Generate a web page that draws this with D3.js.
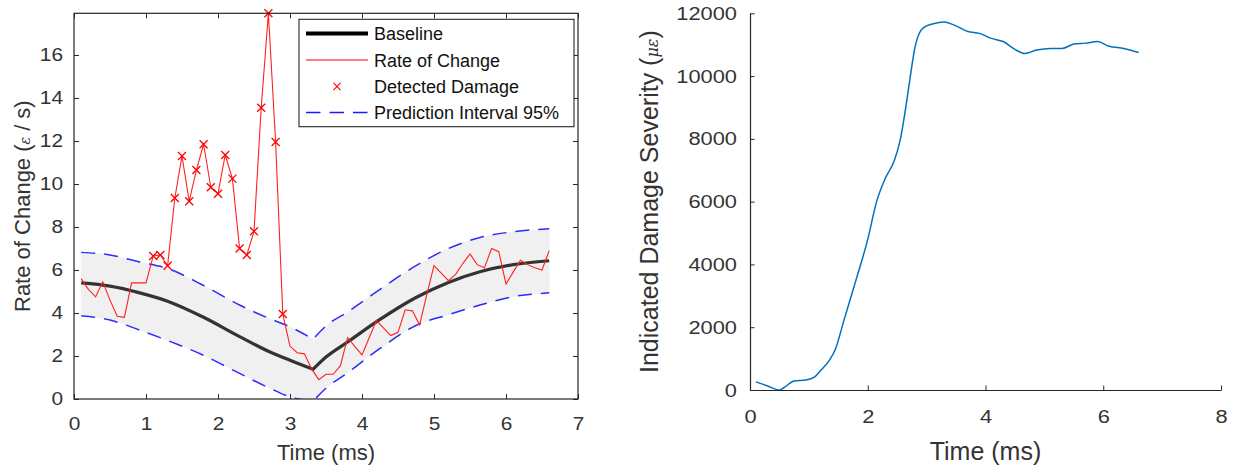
<!DOCTYPE html>
<html><head><meta charset="utf-8">
<script src="https://cdn.jsdelivr.net/npm/d3@7"></script>
<style>
body{margin:0;background:#fff}
text{font-family:"Liberation Sans",Arial,Helvetica,sans-serif;}
</style>
</head><body>
<svg id="c" width="1234" height="470"></svg>
<script>
// ---------- DATA (left panel) ----------
const time = [0.1,0.2,0.3,0.4,0.5,0.6,0.7,0.8,0.9,1.0,1.1,1.2,1.3,1.4,1.5,1.6,1.7,1.8,1.9,2.0,
  2.1,2.2,2.3,2.4,2.5,2.6,2.7,2.8,2.9,3.0,3.1,3.2,3.3,3.4,3.5,3.6,3.7,3.8,3.9,4.0,
  4.1,4.2,4.3,4.4,4.5,4.6,4.7,4.8,4.9,5.0,5.1,5.2,5.3,5.4,5.5,5.6,5.7,5.8,5.9,6.0,
  6.1,6.2,6.3,6.4,6.5,6.6];
const rateOfChange = [5.6,5.1,4.75,5.45,4.6,3.85,3.8,5.4,5.4,5.4,6.65,6.7,6.2,9.35,11.3,9.2,10.65,11.85,9.85,9.55,
  11.35,10.25,7.0,6.7,7.8,13.55,17.94,11.95,3.95,2.45,2.15,2.1,1.4,0.9,1.15,1.15,1.55,2.85,2.45,2.05,
  2.85,3.65,3.3,2.95,3.1,4.15,4.1,3.45,4.85,6.2,5.85,5.5,5.8,6.3,6.75,6.25,6.1,7.0,6.85,5.35,
  5.9,6.45,6.25,6.1,6.0,6.9];
const detectedTime = [1.1,1.2,1.3,1.4,1.5,1.6,1.7,1.8,1.9,2.0,2.1,2.2,2.3,2.4,2.5,2.6,2.7,2.8,2.9];
const detectedRate = [6.65,6.7,6.2,9.35,11.3,9.2,10.65,11.85,9.85,9.55,11.35,10.25,7.0,6.7,7.8,13.55,17.94,11.95,3.95];

// baseline & 95% prediction interval, falling branch and rising branch
const fallTime  = [0.1,0.5,0.9,1.3,1.8,2.3,2.7,3.0,3.32];
const fallBase  = [5.4,5.25,4.95,4.55,3.8,2.9,2.22,1.8,1.38];
const fallUpper = [6.82,6.7,6.38,6.07,5.28,4.37,3.76,3.36,2.78];
const fallLower = [3.87,3.67,3.22,2.72,2.03,1.19,0.53,0.1,-0.1];
const riseTime  = [3.32,3.5,3.8,4.25,4.75,5.2,5.65,6.1,6.6];
const riseBase  = [1.38,1.95,2.65,3.7,4.72,5.42,5.93,6.25,6.43];
const riseUpper = [2.78,3.4,4.05,5.1,6.2,7.0,7.52,7.78,7.92];
const riseLower = [-0.1,0.5,1.22,2.35,3.42,3.92,4.38,4.76,4.94];

const leftXTicks = [0,1,2,3,4,5,6,7];
const leftYTicks = [0,2,4,6,8,10,12,14,16];
const legendLabels = ["Baseline","Rate of Change","Detected Damage","Prediction Interval 95%"];

// ---------- DATA (right panel) ----------
const sevTime = [0.1,0.3,0.5,0.6,0.75,0.95,1.1,1.2,1.35,1.45,1.6,1.8,2.0,2.15,2.3,2.45,2.55,2.65,2.72,2.8,
  2.9,3.0,3.15,3.3,3.45,3.7,3.9,4.1,4.3,4.5,4.67,4.87,5.1,5.3,5.5,5.7,5.9,6.1,6.35,6.6];
const severity = [260,130,0,110,290,320,420,620,950,1300,2250,3500,4800,6000,6750,7300,7950,9050,9950,10900,
  11450,11600,11680,11720,11640,11420,11360,11200,11100,10850,10720,10830,10880,10880,11020,11050,11100,10950,10880,10750];
const rightXTicks = [0,2,4,6,8];
const rightYTicks = [0,2000,4000,6000,8000,10000,12000];

// ---------- DRAW ----------
const svg = d3.select("#c");
const axisCol = "#262626";

function stretchText(sel, sx){
  sel.selectAll("text").each(function(){
    const t = d3.select(this);
    const x = +t.attr("x") || 0;
    t.attr("x", x/sx).attr("transform", `scale(${sx},1)`);
  });
}

// ===== Left panel =====
const L = {x0:74, x1:578, y0:13.3, y1:399};
const xL = d3.scaleLinear().domain([0,7]).range([L.x0,L.x1]);
const yL = d3.scaleLinear().domain([0,17.94]).range([L.y1,L.y0]);

const defs = svg.append("defs");
defs.append("clipPath").attr("id","clipL").append("rect")
  .attr("x",L.x0).attr("y",L.y0).attr("width",L.x1-L.x0).attr("height",L.y1-L.y0);

const gL = svg.append("g");
const plotL = gL.append("g").attr("clip-path","url(#clipL)");

function branch(t, b, u, l){ return t.map((v,i)=>({t:v,b:b[i],u:u[i],l:l[i]})); }
const branches = [branch(fallTime,fallBase,fallUpper,fallLower), branch(riseTime,riseBase,riseUpper,riseLower)];

const area = d3.area().x(d=>xL(d.t)).y0(d=>yL(d.l)).y1(d=>yL(d.u)).curve(d3.curveMonotoneX);
branches.forEach(br=>{
  plotL.append("path").attr("d",area(br)).attr("fill","#f0f0f0").attr("stroke","#f0f0f0").attr("stroke-width",0.5);
});
const upLine = d3.line().x(d=>xL(d.t)).y(d=>yL(d.u)).curve(d3.curveMonotoneX);
const loLine = d3.line().x(d=>xL(d.t)).y(d=>yL(d.l)).curve(d3.curveMonotoneX);
const bLine  = d3.line().x(d=>xL(d.t)).y(d=>yL(d.b)).curve(d3.curveMonotoneX);
const upD = upLine(branches[0]) + upLine(branches[1]).replace(/^M/,"L");
const loD = loLine(branches[0]) + loLine(branches[1]).replace(/^M/,"L");
[upD, loD].forEach(d=>{
  plotL.append("path").attr("d",d).attr("fill","none").attr("stroke","#2b2bff")
    .attr("stroke-width",1.5).attr("stroke-dasharray","14,9");
});
const bD = bLine(branches[0]) + bLine(branches[1]).replace(/^M/,"L");
plotL.append("path").attr("d",bD).attr("fill","none").attr("stroke","#333")
  .attr("stroke-width",3.2).attr("stroke-linejoin","round");

const rLine = d3.line().x((d,i)=>xL(time[i])).y(d=>yL(d));
plotL.append("path").attr("d",rLine(rateOfChange)).attr("fill","none")
  .attr("stroke","#ff2020").attr("stroke-width",1.1);

const mk = 4;
detectedTime.forEach((t,i)=>{
  const cx = xL(t), cy = yL(detectedRate[i]);
  gL.append("path").attr("d",`M${cx-mk},${cy-mk}L${cx+mk},${cy+mk}M${cx-mk},${cy+mk}L${cx+mk},${cy-mk}`)
    .attr("stroke","#ff0000").attr("stroke-width",1.3).attr("fill","none");
});

// axes (box)
const axB = gL.append("g").attr("transform",`translate(0,${L.y1})`)
  .call(d3.axisBottom(xL).tickValues(leftXTicks).tickFormat(d3.format("d")).tickSizeInner(-5).tickSizeOuter(0).tickPadding(18));
const axT = gL.append("g").attr("transform",`translate(0,${L.y0})`)
  .call(d3.axisTop(xL).tickValues(leftXTicks).tickFormat("").tickSizeInner(-5).tickSizeOuter(0));
const axLft = gL.append("g").attr("transform",`translate(${L.x0},0)`)
  .call(d3.axisLeft(yL).tickValues(leftYTicks).tickFormat(d3.format("d")).tickSizeInner(-5).tickSizeOuter(0).tickPadding(11));
const axRgt = gL.append("g").attr("transform",`translate(${L.x1},0)`)
  .call(d3.axisRight(yL).tickValues(leftYTicks).tickFormat("").tickSizeInner(-5).tickSizeOuter(0));
[axB,axT,axLft,axRgt].forEach(a=>{
  a.select(".domain").remove();
  a.selectAll("line").attr("stroke",axisCol);
  a.selectAll("text").attr("fill","#333").style("font-size","17.7px").style("font-family",'"Liberation Sans",Arial,sans-serif');
});
stretchText(axB,1.18); stretchText(axLft,1.18);
gL.append("rect").attr("x",L.x0).attr("y",L.y0).attr("width",L.x1-L.x0).attr("height",L.y1-L.y0)
  .attr("fill","none").attr("stroke",axisCol).attr("stroke-width",1.2);

gL.append("text").attr("x",(L.x0+L.x1)/2).attr("y",460).attr("text-anchor","middle")
  .attr("fill","#333").style("font-size","22px").text("Time (ms)");
const yl = gL.append("text").attr("transform",`translate(29.5,${(L.y0+L.y1)/2}) rotate(-90)`)
  .attr("text-anchor","middle").attr("fill","#333").style("font-size","22px");
yl.append("tspan").text("Rate of Change (");
yl.append("tspan").style("font-style","italic").style("font-family","'DejaVu Serif',serif").style("font-size","14px").text("ε");
yl.append("tspan").text(" / s)");

// legend
const lg = gL.append("g");
lg.append("rect").attr("x",299).attr("y",19.3).attr("width",275).attr("height",107.4)
  .attr("fill","#fff").attr("stroke","#262626").attr("stroke-width",1.1);
const rowY = [33.5,60,86.5,112.5];
lg.append("line").attr("x1",306).attr("x2",368).attr("y1",rowY[0]).attr("y2",rowY[0]).attr("stroke","#000").attr("stroke-width",4);
lg.append("line").attr("x1",306).attr("x2",368).attr("y1",rowY[1]).attr("y2",rowY[1]).attr("stroke","#ff0000").attr("stroke-width",1.2);
{const cx=337, cy=rowY[2], m=3.6;
 lg.append("path").attr("d",`M${cx-m},${cy-m}L${cx+m},${cy+m}M${cx-m},${cy+m}L${cx+m},${cy-m}`).attr("stroke","#ff0000").attr("stroke-width",1.1);}
lg.append("line").attr("x1",306).attr("x2",368).attr("y1",rowY[3]).attr("y2",rowY[3]).attr("stroke","#1a1aff").attr("stroke-width",1.5).attr("stroke-dasharray","14.5,9");
legendLabels.forEach((s,i)=>{
  lg.append("text").attr("x",374).attr("y",rowY[i]+6.5).attr("fill","#111").style("font-size","18px").text(s);
});

// ===== Right panel =====
const R = {x0:750, x1:1221, y0:13.3, y1:390};
const xR = d3.scaleLinear().domain([0,8]).range([R.x0,R.x1]);
const yR = d3.scaleLinear().domain([0,12000]).range([R.y1,R.y0]);
const gR = svg.append("g");
gR.append("path").attr("d", d3.line().x((d,i)=>xR(sevTime[i])).y(d=>yR(d)).curve(d3.curveMonotoneX)(severity))
  .attr("fill","none").attr("stroke","#0072BD").attr("stroke-width",1.5);

const rB = gR.append("g").attr("transform",`translate(0,${R.y1})`)
  .call(d3.axisBottom(xR).tickValues(rightXTicks).tickFormat(d3.format("d")).tickSizeInner(-4.5).tickSizeOuter(0).tickPadding(20));
const rL = gR.append("g").attr("transform",`translate(${R.x0},0)`)
  .call(d3.axisLeft(yR).tickValues(rightYTicks).tickFormat(d3.format("d")).tickSizeInner(-4.5).tickSizeOuter(0).tickPadding(13));
[rB,rL].forEach(a=>{
  a.select(".domain").attr("stroke",axisCol).attr("stroke-width",1.2);
  a.selectAll("line").attr("stroke",axisCol);
  a.selectAll("text").attr("fill","#333").style("font-size","19px").style("font-family",'"Liberation Sans",Arial,sans-serif');
});
stretchText(rB,1.15); stretchText(rL,1.15);

gR.append("text").attr("x",(R.x0+R.x1)/2).attr("y",460).attr("text-anchor","middle")
  .attr("fill","#333").style("font-size","25px").text("Time (ms)");
const yr = gR.append("text").attr("transform",`translate(658,${(R.y0+R.y1)/2}) rotate(-90)`)
  .attr("text-anchor","middle").attr("fill","#333").style("font-size","25px");
yr.append("tspan").text("Indicated Damage Severity (");
yr.append("tspan").style("font-style","italic").style("font-family","'DejaVu Serif',serif").style("font-size","16px").text("με");
yr.append("tspan").text(")");
</script>
</body></html>
